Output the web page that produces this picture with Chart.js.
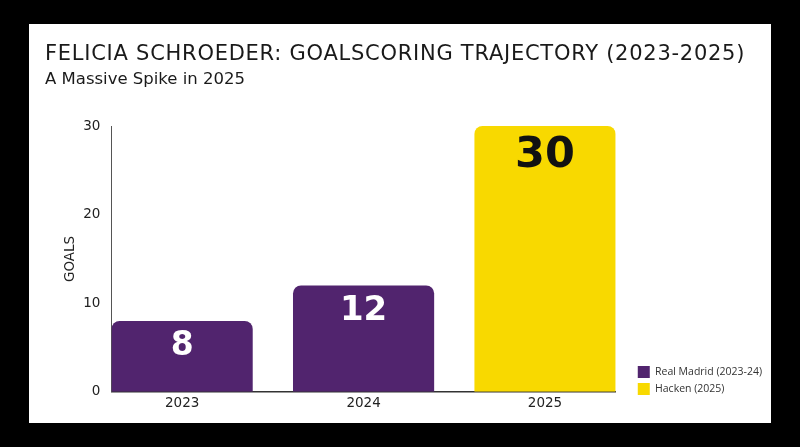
<!DOCTYPE html>
<html>
<head>
<meta charset="utf-8">
<script src="https://cdn.jsdelivr.net/npm/chart.js"></script>
<style>
  html, body { margin: 0; padding: 0; background: #000; }
  body { width: 800px; height: 447px; position: relative; overflow: hidden; }
  .card { position: absolute; left: 29px; top: 24px; width: 742px; height: 399px; background: #fff; }
  .card h1, .card h2 {
    position: absolute; left: 16px; margin: 0; font-weight: normal;
    font-family: "DejaVu Sans", sans-serif; line-height: 1; white-space: nowrap; color: #1a1a1a;
  }
  .card h1 { top: 19px; font-size: 21px; letter-spacing: 0.74px; }
  .card h2 { top: 47px; font-size: 16.5px; }
  .card canvas { position: absolute; left: 0; top: 0; }
</style>
</head>
<body>
<div class="card">
  <canvas id="goalsChart"></canvas>
  <h1>FELICIA SCHROEDER: GOALSCORING TRAJECTORY (2023-2025)</h1>
  <h2>A Massive Spike in 2025</h2>
</div>
<script>
// data
const years = ['2023', '2024', '2025'];
const realMadridGoals = [8, 12, null];
const hackenGoals = [null, null, 30];
const goalTicks = [0, 10, 20, 30];

const FONT = '"DejaVu Sans", sans-serif';
const PURPLE = '#51246e';
const YELLOW = '#f8d900';

// numbers written inside the top of each bar
const barLabels = {
  id: 'barLabels',
  afterDatasetsDraw(chart) {
    const ctx = chart.ctx;
    chart.data.datasets.forEach((ds, i) => {
      const meta = chart.getDatasetMeta(i);
      meta.data.forEach((bar, j) => {
        const v = ds.data[j].y;
        if (v === null) return;
        const size = Math.round(29 + v * 0.45);
        ctx.save();
        ctx.font = 'bold ' + size + 'px ' + FONT;
        ctx.fillStyle = ds.labelColor;
        ctx.textAlign = 'center';
        ctx.textBaseline = 'alphabetic';
        ctx.fillText(String(v), bar.x, bar.y + 10 + size * 0.73);
        ctx.restore();
      });
    });
  }
};

// nudge the legend away from the plot and down to the axis
const legendGap = {
  id: 'legendGap',
  afterLayout(chart) {
    const lg = chart.legend;
    lg.left += 17;
    lg.right += 17;
    lg.top -= 16;
    lg.bottom -= 16;
  }
};

const toPoints = arr => arr.map((v, i) => ({ x: i, y: v }));

const config = {
  type: 'bar',
  data: {
    datasets: [{
      label: 'Real Madrid (2023-24)',
      data: toPoints(realMadridGoals),
      backgroundColor: PURPLE,
      labelColor: '#ffffff',
      borderRadius: 8
    }, {
      label: 'Hacken (2025)',
      data: toPoints(hackenGoals),
      backgroundColor: YELLOW,
      labelColor: '#111111',
      borderRadius: 8
    }]
  },
  options: {
    responsive: true,
    maintainAspectRatio: false,
    animation: false,
    barPercentage: 0.778,
    categoryPercentage: 1,
    layout: { padding: { left: 16, right: 16, top: 102, bottom: 7 } },
    plugins: {
      legend: {
        position: 'right',
        align: 'end',
        labels: {
          boxWidth: 12,
          boxHeight: 12,
          padding: 5,
          color: '#333',
          font: { family: '"Open Sans", sans-serif', size: 10.5 }
        }
      },
      tooltip: { enabled: false }
    },
    scales: {
      x: {
        type: 'linear',
        min: -0.39,
        max: 2.39,
        offset: false,
        stacked: true,
        grid: { display: false, drawTicks: false },
        border: { color: '#333', width: 1.5 },
        ticks: {
          stepSize: 1,
          includeBounds: false,
          autoSkip: false,
          padding: 4,
          color: '#222',
          font: { family: FONT, size: 13.5 },
          callback: v => years[v] ?? ''
        }
      },
      y: {
        stacked: true,
        min: goalTicks[0],
        max: goalTicks[goalTicks.length - 1],
        grid: { display: false, drawTicks: false },
        border: { color: '#555', width: 1 },
        ticks: {
          stepSize: goalTicks[1] - goalTicks[0],
          padding: 11,
          color: '#222',
          font: { family: FONT, size: 13.5 }
        },
        title: {
          display: true,
          text: 'GOALS',
          color: '#222',
          font: { family: FONT, size: 13.5 },
          padding: { top: 17, bottom: -6 }
        }
      }
    }
  },
  plugins: [barLabels, legendGap]
};

const myChart = new Chart(document.getElementById('goalsChart'), config);
</script>
</body>
</html>
